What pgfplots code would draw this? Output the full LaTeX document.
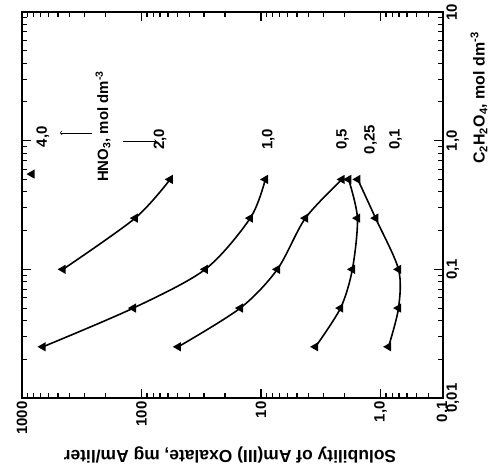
\documentclass[border=0pt]{standalone}
\usepackage{fontspec}
\setmainfont{Liberation Sans}
\usepackage{pgfplots}
\pgfplotsset{compat=1.18}
\tikzset{curve/.style={black, line width=1.6pt, smooth,
    mark=triangle*, mark size=3.8pt, mark options={rotate=90, fill=black, solid}}}
\begin{document}
\begin{tikzpicture}[font=\bfseries]
\useasboundingbox (-22bp,-74bp) rectangle (471bp,398bp);
\begin{axis}[
  scale only axis, width=421bp, height=386bp,
  xmode=log, ymode=log, x dir=reverse,
  xmin=0.3, xmax=1000, ymin=0.01, ymax=10,
  axis line style={line width=1.4pt},
  tick align=inside,
  major tick length=9bp, minor tick length=5bp,
  every tick/.style={black, line width=1.1pt},
  xtick={0.3,1,10,100,1000}, xticklabels={{0,1},{1,0},10,100,1000},
  minor xtick={0.4,0.5,0.6,0.7,0.8,0.9,2,3,4,5,6,7,8,9,20,30,40,50,60,70,80,90,200,300,400,500,600,700,800,900},
  ytick={0.01,0.1,1,10}, yticklabels={{0,01},{0,1},{1,0},10},
  minor ytick={0.02,0.03,0.04,0.05,0.06,0.07,0.08,0.09,0.2,0.3,0.4,0.5,0.6,0.7,0.8,0.9,2,3,4,5,6,7,8,9},
  yticklabel pos=right,
  xticklabel style={font=\bfseries\fontsize{15}{15}\selectfont, rotate=90, anchor=east},
  yticklabel style={font=\bfseries\fontsize{15}{15}\selectfont, rotate=90, anchor=north},
]
% HNO3 = 4.0
\addplot[curve, only marks] coordinates {(826,0.55)};
% HNO3 = 2.0
\addplot[curve] coordinates {(454,0.1) (113,0.25) (57.6,0.5)};
% HNO3 = 1.0
\addplot[curve] coordinates {(668,0.025) (117,0.05) (29.3,0.1) (12.3,0.25) (9.2,0.5)};
% HNO3 = 0.5
\addplot[curve] coordinates {(49.3,0.025) (14.9,0.05) (7.3,0.1) (4.25,0.25) (2.1,0.5)};
% HNO3 = 0.25
\addplot[curve] coordinates {(3.5,0.025) (2.16,0.05) (1.72,0.1) (1.56,0.25) (1.85,0.5)};
% HNO3 = 0.1
\addplot[curve] coordinates {(0.857,0.025) (0.707,0.05) (0.707,0.1) (1.1,0.25) (1.55,0.5)};

\begin{scope}[font=\bfseries\fontsize{15}{15}\selectfont]
\node[rotate=90] at (axis cs:668,1.07) {4,0};
\node[rotate=90] at (axis cs:69.8,1.02) {2,0};
\node[rotate=90] at (axis cs:210,1.29) {HNO\textsubscript{3}, mol dm\textsuperscript{-3}};
\node[rotate=90] at (axis cs:8.7,1.02) {1,0};
\node[rotate=90] at (axis cs:2.08,1.02) {0,5};
\node[rotate=90] at (axis cs:1.21,1.02) {0,25};
\node[rotate=90] at (axis cs:0.75,1.02) {0,1};
\end{scope}
\draw[->, line width=0.6pt] (axis cs:259,1.15) -- (axis cs:481,1.15);
\draw[->, line width=0.9pt] (axis cs:143,0.98) -- (axis cs:74,0.98);
\end{axis}
\node[rotate=180, font=\bfseries\fontsize{17.5}{17.5}\selectfont] at (208bp,-57bp)
  {Solubility of Am(III) Oxalate, mg Am/liter};
\node[rotate=90, font=\bfseries\fontsize{16}{16}\selectfont] at (457bp,300bp)
  {C\textsubscript{2}H\textsubscript{2}O\textsubscript{4}, mol dm\textsuperscript{-3}};
\end{tikzpicture}
\end{document}
